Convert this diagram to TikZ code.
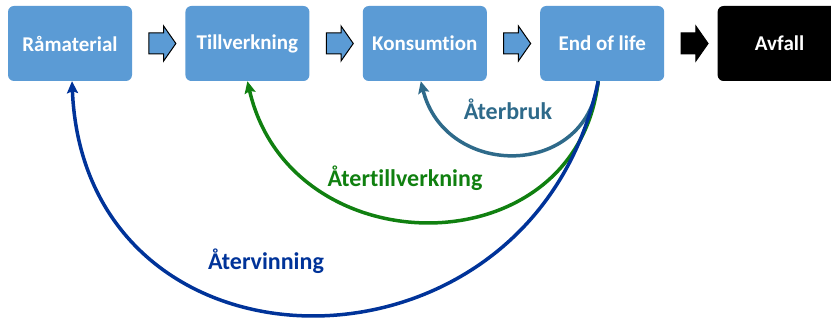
\documentclass[tikz,border=0pt]{standalone}
\usepackage{fontspec}
\setmainfont{Carlito}[Ligatures=NoCommon]
\usepackage{xcolor}
\usepackage{tikz}
\usetikzlibrary{positioning,calc,shapes.arrows,arrows.meta}

\definecolor{boxblue}{RGB}{91,155,213}
\definecolor{reuse}{RGB}{46,106,138}
\definecolor{reman}{RGB}{16,128,16}
\definecolor{recyc}{RGB}{0,51,153}

\begin{document}
\begin{tikzpicture}[x=1pt,y=1pt,
  stage/.style={fill=boxblue, rounded corners=6pt, minimum width=124pt, minimum height=75pt,
    text=white, font=\fontsize{21}{25}\selectfont\bfseries, inner sep=0pt},
  flowarrow/.style={single arrow, draw=black, line width=1pt, fill=boxblue, minimum height=27pt,
    inner xsep=0pt, inner ysep=10pt, single arrow head extend=7pt, single arrow tip angle=110},
  loop/.style={line width=3.5pt, -{Stealth[length=12pt,width=11pt,inset=2pt]}},
  looplabel/.style={font=\fontsize{24}{28}\selectfont\bfseries}]
\useasboundingbox (0,0) rectangle (831,320);
\node[stage] (ram) at (70,276.5) {Råmaterial};
\node[stage, right=53pt of ram] (till) {Tillverkning};
\node[stage, right=53pt of till] (kons) {Konsumtion};
\node[stage, right=53pt of kons] (eol) {End of life};
\node[stage, fill=black, right=53pt of eol] (avf) {Avfall};
\node[flowarrow] (a1) at ($(ram.east)!.5!(till.west)$) {};
\node[flowarrow] (a2) at ($(till.east)!.5!(kons.west)$) {};
\node[flowarrow] (a3) at ($(kons.east)!.5!(eol.west)$) {};
\node[flowarrow, fill=black] (a4) at ($(eol.east)!.5!(avf.west)$) {};
\coordinate (out) at ([xshift=-4pt]eol.south);
% loops back
\draw[loop, reuse] (out) .. controls +(-12,-98.5) and +(24.5,-97.5) .. ([xshift=-4pt]kons.south);
\draw[loop, reman] (out) .. controls +(-22,-188) and +(43,-187) .. (till.south);
\draw[loop, recyc] (out) .. controls +(-65,-312) and +(13,-311) .. ([xshift=2pt]ram.south);
\node[looplabel, text=reuse] (lb1) at (508,211) {Återbruk};
\node[looplabel, text=reman] (lb2) at (405,142) {Återtillverkning};
\node[looplabel, text=recyc] (lb3) at (266,59) {Återvinning};
\end{tikzpicture}
\end{document}
